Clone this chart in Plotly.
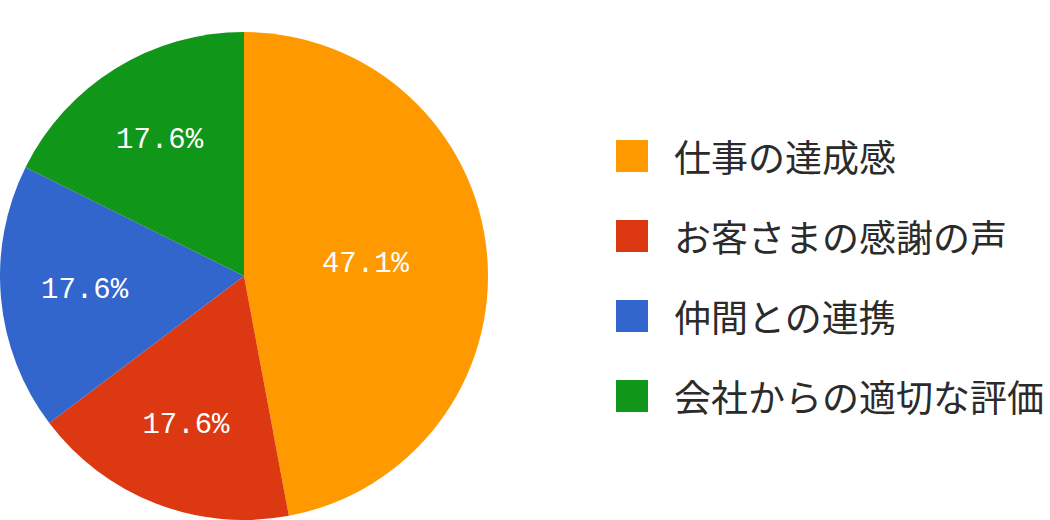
import plotly.graph_objects as go

categories = ["仕事の達成感", "お客さまの感謝の声", "仲間との連携", "会社からの適切な評価"]
values = [8, 3, 3, 3]
colors = ["#FF9900", "#DC3912", "#3366CC", "#109618"]

W, H = 1050, 520
FONT = "Noto Sans CJK JP, Noto Sans, sans-serif"
NUM_FONT = "Liberation Mono, DejaVu Sans Mono, monospace"

fig = go.Figure(go.Pie(
    labels=categories,
    values=values,
    sort=False,
    direction="clockwise",
    rotation=0,
    marker=dict(colors=colors, line=dict(width=0)),
    texttemplate="%{percent:.1%}",
    textposition="inside",
    insidetextorientation="horizontal",
    textfont=dict(color="white", size=29, family=NUM_FONT),
    domain=dict(x=[0, 488 / W], y=[0, 488 / H]),
    showlegend=False,
    hoverinfo="label+percent",
))

# custom legend built from the category list
leg_x0 = 616
leg_y0 = 156
leg_dy = 80
sq = 32
shapes = []
annotations = []
for i, (cat, col) in enumerate(zip(categories, colors)):
    yc = leg_y0 + i * leg_dy
    shapes.append(dict(type="rect", xref="paper", yref="paper",
                       x0=leg_x0 / W, x1=(leg_x0 + sq) / W,
                       y0=1 - (yc + sq / 2) / H, y1=1 - (yc - sq / 2) / H,
                       fillcolor=col, line=dict(width=0)))
    annotations.append(dict(xref="paper", yref="paper", x=672 / W, y=1 - yc / H,
                            xanchor="left", yanchor="middle", showarrow=False,
                            text=cat, font=dict(family=FONT, size=37, color="#2b2b2b")))

fig.update_layout(
    width=W, height=H,
    margin=dict(l=0, r=0, t=0, b=0),
    paper_bgcolor="white",
    plot_bgcolor="white",
    shapes=shapes,
    annotations=annotations,
)

fig.write_html("out.html", config={"displayModeBar": False},
               post_script="document.body.style.margin='0';document.body.style.overflow='hidden';")
